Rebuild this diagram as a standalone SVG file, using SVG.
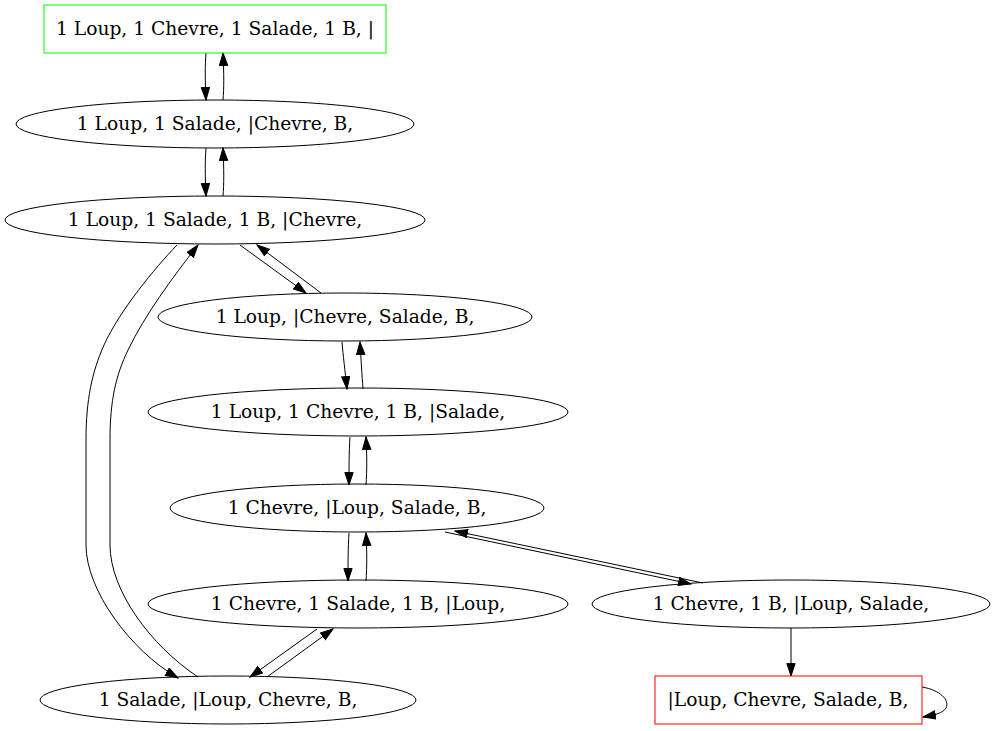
<svg xmlns="http://www.w3.org/2000/svg" width="992" height="731" viewBox="0 0 992 731">
<style>
.n{fill:none;stroke:#000;stroke-width:1}
.t{font-family:"DejaVu Serif","Liberation Serif",serif;font-size:18.67px;text-anchor:middle;fill:#000}
.e{fill:none;stroke:#000;stroke-width:1}
</style>
<defs>
<marker id="a" markerUnits="userSpaceOnUse" markerWidth="14" markerHeight="10" refX="13" refY="4.65" orient="auto">
<path d="M0.5,0.5 L13,4.65 L0.5,8.8 z" fill="#000" stroke="#000" stroke-width="1"/>
</marker>
</defs>
<rect width="992" height="731" fill="#fff"/>
<g id="edges">
<path class="e" marker-end="url(#a)" d="M206,53 C205,66 205,78 206,100"/>
<path class="e" marker-end="url(#a)" d="M223,100 C224,88 224,75 223,53"/>
<path class="e" marker-end="url(#a)" d="M206,148 C205,161 205,174 206,196"/>
<path class="e" marker-end="url(#a)" d="M223,196 C224,184 224,170 223,148"/>
<path class="e" marker-end="url(#a)" d="M240,245 L306,293"/>
<path class="e" marker-end="url(#a)" d="M321,293 L257,245"/>
<path class="e" marker-end="url(#a)" d="M342,342 C343,355 345,370 347,389"/>
<path class="e" marker-end="url(#a)" d="M363,389 C362,375 361,360 360,342"/>
<path class="e" marker-end="url(#a)" d="M350,437 C349,452 349,467 349,485"/>
<path class="e" marker-end="url(#a)" d="M366,485 C367,470 367,455 366,437"/>
<path class="e" marker-end="url(#a)" d="M349,533 C348,548 348,563 348,581"/>
<path class="e" marker-end="url(#a)" d="M366,581 C367,566 367,551 366,533"/>
<path class="e" marker-end="url(#a)" d="M445,532 L691,584"/>
<path class="e" marker-end="url(#a)" d="M703,583 L455,531"/>
<path class="e" marker-end="url(#a)" d="M317,629 L250,677"/>
<path class="e" marker-end="url(#a)" d="M267,677 L333,629"/>
<path class="e" marker-end="url(#a)" d="M791,628 L791,676"/>
<path class="e" marker-end="url(#a)" d="M922,687 C940,690 950,700 946,708 C943,713 935,715 923,717"/>
<path class="e" marker-end="url(#a)" d="M177,245 C155,268 120,310 104,345 C92,372 86,400 86,440 L86,545 C86,590 130,650 178,678"/>
<path class="e" marker-end="url(#a)" d="M198,677 C150,645 110,590 110,545 L110,440 C110,400 116,375 128,350 C145,315 172,278 198,245"/>
</g>
<g id="n1"><rect x="44" y="5" width="342" height="48" fill="none" stroke="#00ff00"/><text class="t" x="215" y="35">1 Loup, 1 Chevre, 1 Salade, 1 B, |</text></g>
<g id="n2"><ellipse class="n" cx="215" cy="124" rx="199" ry="24"/><text class="t" x="215" y="130">1 Loup, 1 Salade, |Chevre, B,</text></g>
<g id="n3"><ellipse class="n" cx="215" cy="220" rx="210" ry="24"/><text class="t" x="215" y="226">1 Loup, 1 Salade, 1 B, |Chevre,</text></g>
<g id="n4"><ellipse class="n" cx="345" cy="317" rx="187" ry="24"/><text class="t" x="345" y="323">1 Loup, |Chevre, Salade, B,</text></g>
<g id="n5"><ellipse class="n" cx="358" cy="412" rx="210" ry="24"/><text class="t" x="358" y="418">1 Loup, 1 Chevre, 1 B, |Salade,</text></g>
<g id="n6"><ellipse class="n" cx="357" cy="508" rx="187" ry="24"/><text class="t" x="357" y="514">1 Chevre, |Loup, Salade, B,</text></g>
<g id="n7"><ellipse class="n" cx="358" cy="604" rx="210" ry="24"/><text class="t" x="358" y="610">1 Chevre, 1 Salade, 1 B, |Loup,</text></g>
<g id="n8"><ellipse class="n" cx="791" cy="604" rx="199" ry="24"/><text class="t" x="791" y="610">1 Chevre, 1 B, |Loup, Salade,</text></g>
<g id="n9"><ellipse class="n" cx="228" cy="700" rx="188" ry="24"/><text class="t" x="228" y="706">1 Salade, |Loup, Chevre, B,</text></g>
<g id="n10"><rect x="655" y="676" width="267" height="48" fill="none" stroke="#ff0000"/><text class="t" x="788" y="706">|Loup, Chevre, Salade, B,</text></g>
</svg>
